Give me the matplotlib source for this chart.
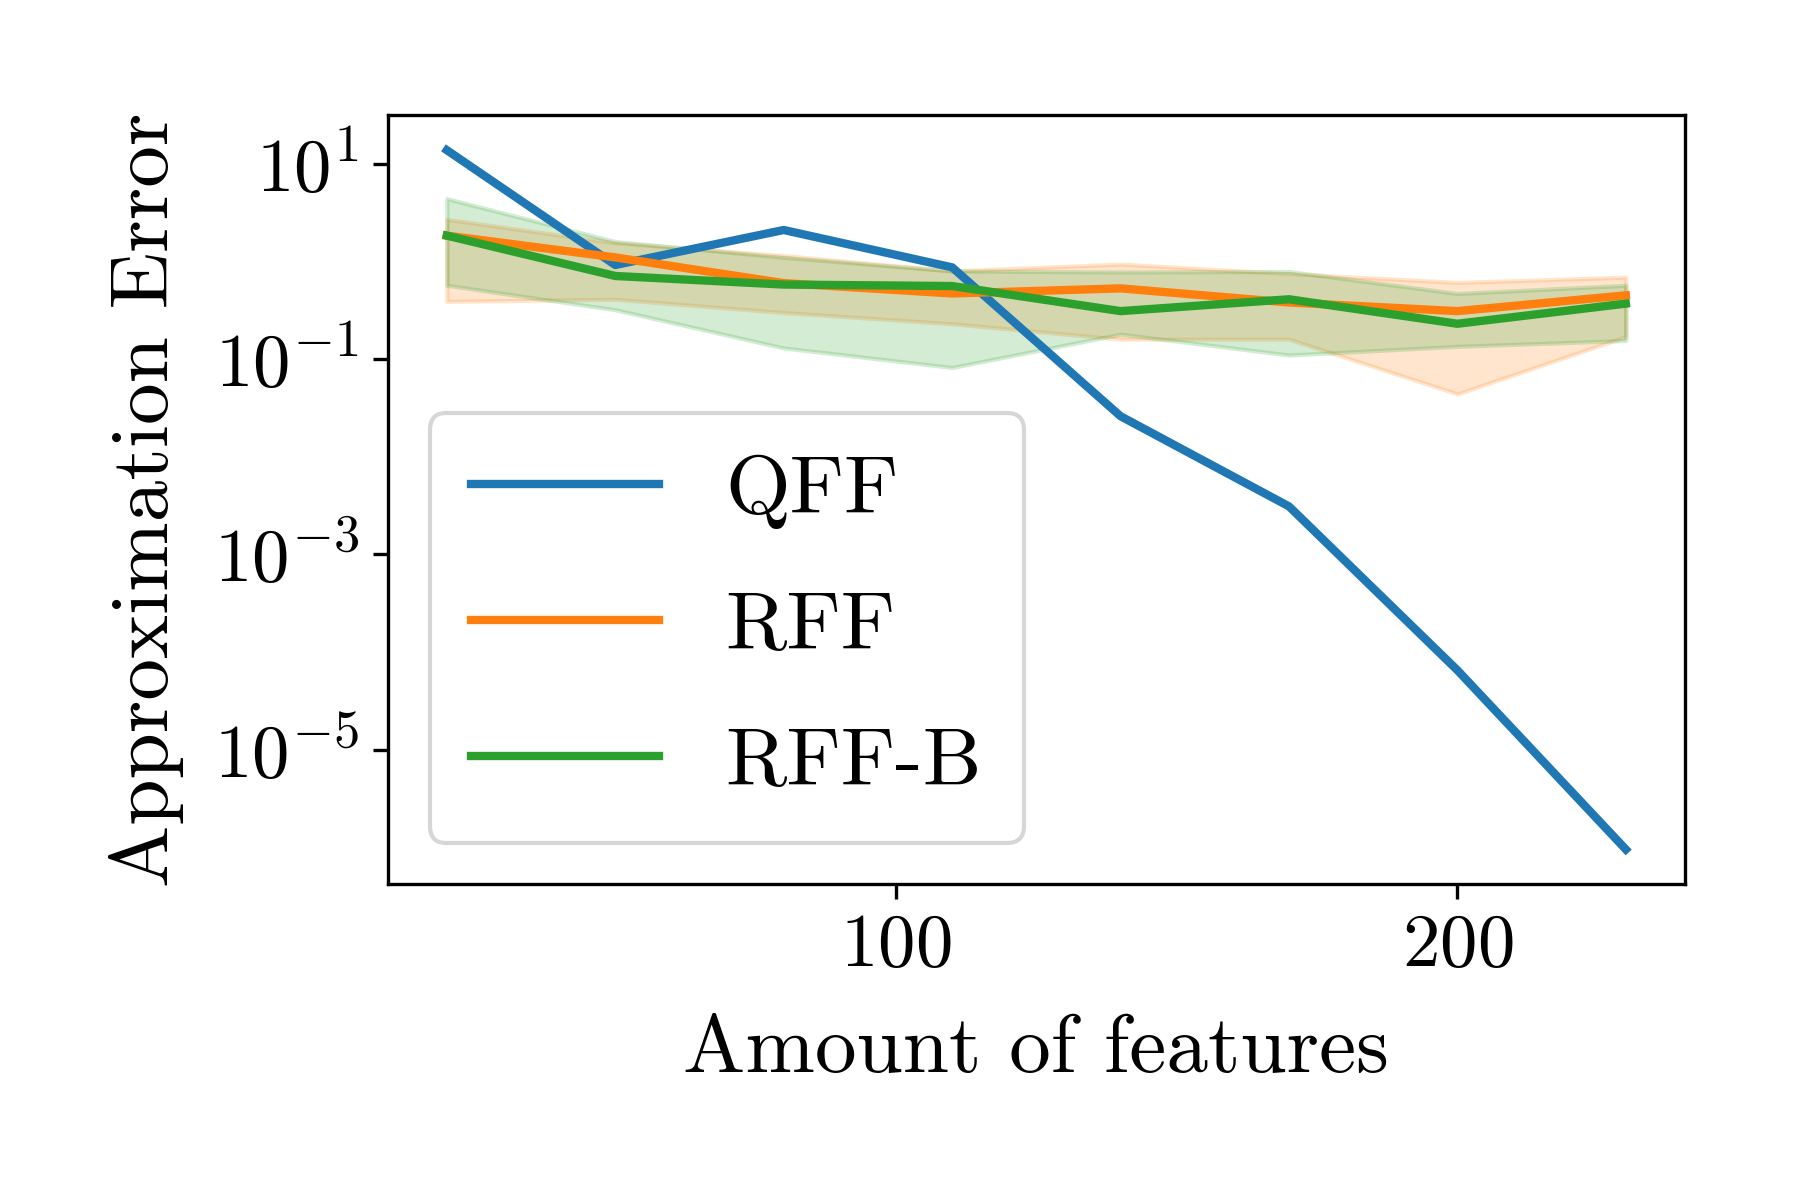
import numpy as np
import matplotlib
matplotlib.use("Agg")
import matplotlib.pyplot as plt
from matplotlib.ticker import NullLocator

plt.rcParams['font.family'] = 'serif'
plt.rcParams['font.serif'] = ['cmr10']
plt.rcParams['mathtext.fontset'] = 'cm'
plt.rcParams['axes.formatter.use_mathtext'] = True
plt.rcParams['axes.unicode_minus'] = True

features = [20, 50, 80, 110, 140, 170, 200, 230]

qff = [13.8, 0.92, 2.1, 0.87, 0.026, 0.0031, 6.5e-5, 9.5e-7]

rff_mean = [1.84, 1.1, 0.6, 0.47, 0.53, 0.38, 0.31, 0.45]
rff_low = [0.39, 0.41, 0.30, 0.23, 0.16, 0.16, 0.044, 0.17]
rff_high = [2.7, 1.55, 1.15, 0.8, 0.94, 0.75, 0.61, 0.69]

rffb_mean = [1.84, 0.71, 0.58, 0.56, 0.31, 0.41, 0.23, 0.37]
rffb_low = [0.57, 0.32, 0.13, 0.082, 0.18, 0.11, 0.135, 0.155]
rffb_high = [4.4, 1.6, 1.1, 0.8, 0.78, 0.79, 0.47, 0.57]

fig, ax = plt.subplots(figsize=(6, 4), dpi=300)
fig.subplots_adjust(left=0.2155, right=0.936, top=0.904, bottom=0.263)

ax.plot(features, qff, color='C0', lw=2, label='QFF')
ax.plot(features, rff_mean, color='C1', lw=2, label='RFF')
ax.fill_between(features, rff_low, rff_high, color='C1', alpha=0.2)
ax.plot(features, rffb_mean, color='C2', lw=2, label='RFF-B')
ax.fill_between(features, rffb_low, rffb_high, color='C2', alpha=0.2)

ax.set_yscale('log')
ax.yaxis.set_minor_locator(NullLocator())
ax.set_xticks([100, 200])
ax.tick_params(labelsize=18)
ax.set_xlabel('Amount of features', fontsize=20, labelpad=8)
ax.set_ylabel('Approximation Error', fontsize=20, labelpad=7)
ax.legend(fontsize=20, loc='lower left', borderpad=0.5, labelspacing=0.74,
          handlelength=2.25)

plt.savefig('out.png', dpi=300)
